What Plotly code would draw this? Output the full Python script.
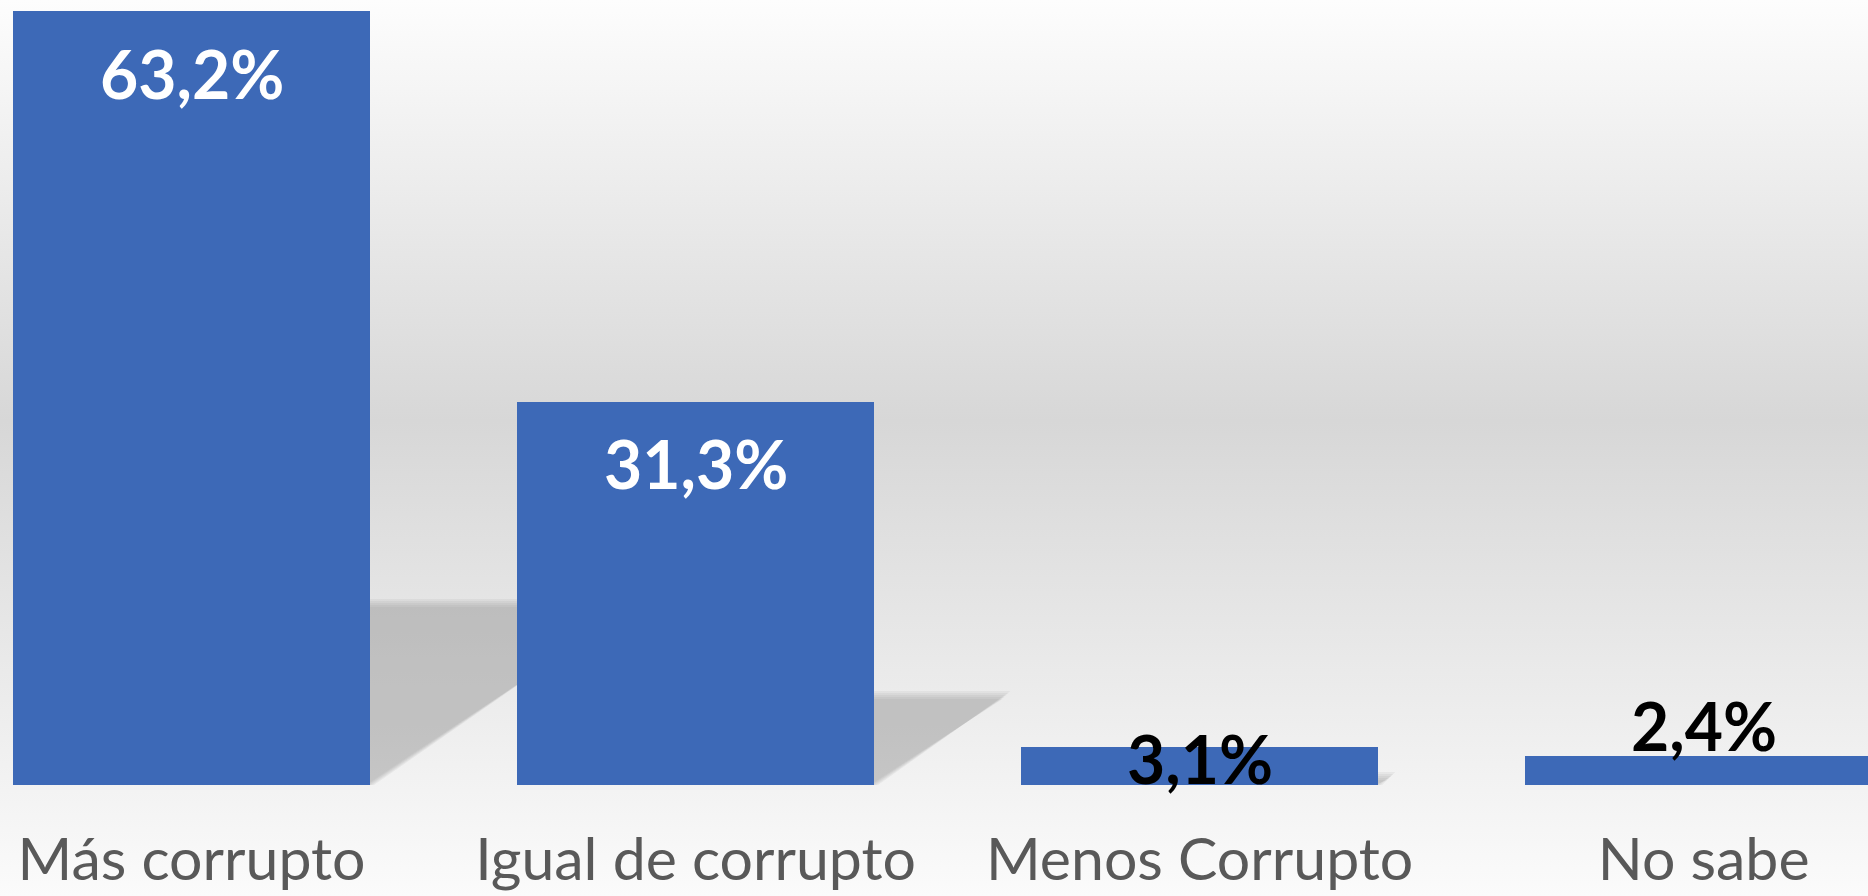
import base64
import plotly.graph_objects as go

# ---- data ----
categories = ["Más corrupto", "Igual de corrupto", "Menos Corrupto", "No sabe"]
values = [63.2, 31.3, 3.1, 2.4]

# ---- styling (not data) ----
label_colors = ["white", "white", "black", "black"]
label_yshift = [-62, -62, -11, 30]
bar_color = "#3D69B7"
W, H = 1868, 896
MB = 111
X_RANGE = [-0.380, 3.326]
Y_RANGE = [0, 64.1]
BAR_W = 0.708

xpos = list(range(len(categories)))
labels = [f"{v:.1f}".replace(".", ",") + "%" for v in values]

fig = go.Figure()
fig.add_trace(go.Bar(
    x=xpos, y=values, width=BAR_W,
    marker=dict(color=bar_color, line=dict(width=0)),
    hoverinfo="skip",
))

# background gradient
svg = f'''<svg xmlns="http://www.w3.org/2000/svg" width="{W}" height="{H}" preserveAspectRatio="none">
<defs><linearGradient id="g" x1="0" y1="0" x2="0" y2="1">
<stop offset="0" stop-color="#fdfdfd"/>
<stop offset="0.47" stop-color="#d7d7d7"/>
<stop offset="1" stop-color="#fbfbfb"/>
</linearGradient></defs>
<rect x="0" y="0" width="{W}" height="{H}" fill="url(#g)"/></svg>'''
src = "data:image/svg+xml;base64," + base64.b64encode(svg.encode()).decode()
plot_h = H - MB
fig.add_layout_image(dict(source=src, xref="paper", yref="paper", x=0, y=1,
                          sizex=1, sizey=H / plot_h, sizing="stretch",
                          xanchor="left", yanchor="top", layer="below"))

# soft perspective shadows derived from data
py_per_unit = plot_h / (Y_RANGE[1] - Y_RANGE[0])
px_per_unit = W / (X_RANGE[1] - X_RANGE[0])
shapes = []
blur_steps = [-4, -2, 0, 2, 4]
for x, v in zip(xpos, values):
    for e in blur_steps:
        hs = 0.235 * v + e / py_per_unit
        dx = 1.47 * (0.235 * v) * py_per_unit / px_per_unit
        x0, x1 = x - BAR_W / 2, x + BAR_W / 2 + e / px_per_unit
        path = f"M {x0},0 L {x1},0 L {x1 + dx},{hs} L {x0 + dx},{hs} Z"
        shapes.append(dict(type="path", path=path, xref="x", yref="y",
                           fillcolor="rgba(140,140,140,0.1)", line=dict(width=0),
                           layer="below"))
fig.update_layout(shapes=shapes)

for x, v, t, c, s in zip(xpos, values, labels, label_colors, label_yshift):
    fig.add_annotation(x=x, y=v, text=t, showarrow=False, yshift=s,
                       xanchor="center", yanchor="middle",
                       font=dict(family="Lato, sans-serif",
                                 size=66, color=c, weight="bold"))

fig.update_layout(
    width=W, height=H,
    margin=dict(l=0, r=0, t=0, b=MB, pad=0, autoexpand=False),
    paper_bgcolor="white", plot_bgcolor="rgba(0,0,0,0)",
    showlegend=False, bargap=0,
    xaxis=dict(range=X_RANGE, tickvals=xpos, ticktext=categories,
               showgrid=False, zeroline=False, showline=False, ticks="",
               automargin=False, ticklabelstandoff=35,
               tickfont=dict(family="Lato, sans-serif", size=59, color="#595959")),
    yaxis=dict(range=Y_RANGE, showgrid=False, zeroline=False, showline=False,
               showticklabels=False, ticks="", automargin=False),
)

fig.write_html("out.html", config={"displayModeBar": False},
               post_script="document.body.style.margin='0';")
